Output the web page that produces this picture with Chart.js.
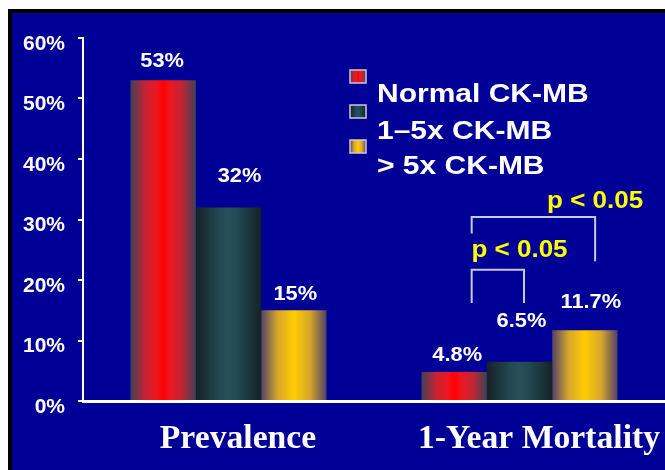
<!DOCTYPE html>
<html>
<head>
<meta charset="utf-8">
<title>CK-MB elevation: prevalence and 1-year mortality</title>
<script src="https://cdn.jsdelivr.net/npm/chart.js@4/dist/chart.umd.min.js"></script>
<style>
  html, body { margin: 0; padding: 0; background: #ffffff; overflow: hidden; }
  canvas { display: block; }
</style>
</head>
<body>
<canvas id="c" width="665" height="470"></canvas>
<script>
// ---- data ----
const categories = ['Prevalence', '1-Year Mortality'];
const seriesNames = ['Normal CK-MB', '1–5x CK-MB', '> 5x CK-MB'];
const normalCkmb = [53, 4.8];
const midCkmb = [32, 6.5];
const highCkmb = [15, 11.7];
const yTickMax = 60;
const yTickStep = 10;
// significance brackets between mortality bars (series indexes)
const mortalityIndex = 1;
const pBrackets = [
  { from: 0, to: 1, label: 'p < 0.05' },
  { from: 0, to: 2, label: 'p < 0.05' }
];

// ---- styling ----
const BG_BLUE = '#000096';
const SANS = "'Liberation Sans', Arial, sans-serif";
const SERIF = "'Liberation Serif', 'Times New Roman', serif";
const CAT_PCT = 0.6735;

// cylinder-like horizontal shading for each series
const shadeStops = [
  [[0, 'rgb(62,66,84)'], [0.22, 'rgb(196,36,52)'], [0.4, 'rgb(238,22,32)'], [0.5, 'rgb(255,0,0)'],
   [0.6, 'rgb(238,22,32)'], [0.78, 'rgb(196,36,52)'], [1, 'rgb(62,66,84)']],
  [[0, 'rgb(20,34,38)'], [0.35, 'rgb(34,72,82)'], [0.5, 'rgb(40,80,90)'], [0.65, 'rgb(34,72,82)'],
   [1, 'rgb(20,34,38)']],
  [[0, 'rgb(82,66,102)'], [0.25, 'rgb(214,166,44)'], [0.5, 'rgb(255,204,0)'], [0.75, 'rgb(214,166,44)'],
   [1, 'rgb(82,66,102)']]
];
const solidColors = ['#ff0000', '#285058', '#ffcc00'];

function makeShade(ctx, series, x0, x1) {
  const g = ctx.createLinearGradient(x0, 0, x1, 0);
  shadeStops[series].forEach(([o, c]) => g.addColorStop(o, c));
  return g;
}

function barFill(context) {
  const chart = context.chart;
  const xs = chart.scales && chart.scales.x;
  if (!xs || !chart.chartArea) return solidColors[context.datasetIndex];
  const center = xs.getPixelForValue(context.dataIndex);
  const catW = (xs.right - xs.left) / categories.length;
  const groupW = catW * CAT_PCT;
  const barW = groupW / seriesNames.length;
  const left = center - groupW / 2 + context.datasetIndex * barW;
  return makeShade(chart.ctx, context.datasetIndex, left, left + barW);
}

function drawScaledText(ctx, text, x, y, align, sx) {
  ctx.save();
  ctx.translate(x, y);
  ctx.scale(sx, 1);
  ctx.textAlign = align;
  ctx.fillText(text, 0, 0);
  ctx.restore();
}

// slide frame: white margin, black rule, blue panel
const framePlugin = {
  id: 'frame',
  beforeDraw(chart) {
    const { ctx, width, height } = chart;
    ctx.save();
    ctx.fillStyle = '#ffffff';
    ctx.fillRect(0, 0, width, height);
    ctx.fillStyle = '#000000';
    ctx.fillRect(8, 9, width - 8, height - 9);
    ctx.fillStyle = BG_BLUE;
    ctx.fillRect(12, 13, width - 12, height - 13);
    ctx.restore();
  }
};

// value labels above bars (offsets: [series][category])
const labelDx = [[-1, 3], [11, 2], [1.5, 6]];
const labelDy = [[19, 17], [31, 40], [16, 28.5]];
const valueLabelPlugin = {
  id: 'valueLabels',
  afterDatasetsDraw(chart) {
    const ctx = chart.ctx;
    ctx.save();
    ctx.fillStyle = '#ffffff';
    ctx.font = 'bold 21px ' + SANS;
    ctx.textBaseline = 'middle';
    chart.data.datasets.forEach((ds, d) => {
      chart.getDatasetMeta(d).data.forEach((el, i) => {
        drawScaledText(ctx, String(ds.data[i]) + '%', el.x + labelDx[d][i], el.y - labelDy[d][i], 'center', 1.04);
      });
    });
    ctx.restore();
  }
};

// category names under the axis
const catLabelDx = [9.5, 19.5];
const categoryLabelPlugin = {
  id: 'categoryLabels',
  afterDraw(chart) {
    const ctx = chart.ctx;
    const xs = chart.scales.x;
    ctx.save();
    ctx.fillStyle = '#ffffff';
    ctx.font = 'bold 33px ' + SERIF;
    ctx.textBaseline = 'alphabetic';
    categories.forEach((c, i) => {
      drawScaledText(ctx, c, xs.getPixelForValue(i) + catLabelDx[i], 448, 'center', 1.02);
    });
    ctx.restore();
  }
};

// legend: shaded swatches above-left of each series name
const legendPlugin = {
  id: 'slideLegend',
  afterDraw(chart) {
    const ctx = chart.ctx;
    const swatchTops = [70, 105, 140];
    const baselines = [102, 139, 174];
    ctx.save();
    chart.data.datasets.forEach((ds, d) => {
      const sx = 350, sw = 16, sh = 13, sy = swatchTops[d];
      ctx.fillStyle = makeShade(ctx, d, sx, sx + sw);
      ctx.fillRect(sx, sy, sw, sh);
      ctx.strokeStyle = '#c8c8dc';
      ctx.lineWidth = 1.5;
      ctx.strokeRect(sx, sy, sw, sh);
      ctx.fillStyle = '#ffffff';
      ctx.font = 'bold 25px ' + SANS;
      ctx.textBaseline = 'alphabetic';
      drawScaledText(ctx, ds.label, 377, baselines[d], 'left', 1.2);
    });
    ctx.restore();
  }
};

// significance brackets over the mortality bars
const bracketGeom = [
  { leftDx: 17.5, rightDx: 4.5, top: 21.7, leftEnd: 16.2, rightEnd: 16.2, textX: 'to', textDx: 0, textY: 23.8 },
  { leftDx: 17.5, rightDx: 10.3, top: 30.4, leftEnd: 27.7, rightEnd: 23.1, textX: 'right', textDx: 0, textY: 31.9 }
];
const bracketPlugin = {
  id: 'pBrackets',
  afterDraw(chart) {
    const ctx = chart.ctx;
    const ys = chart.scales.y;
    ctx.save();
    pBrackets.forEach((b, k) => {
      const g = bracketGeom[k];
      const a = chart.getDatasetMeta(b.from).data[mortalityIndex];
      const z = chart.getDatasetMeta(b.to).data[mortalityIndex];
      const xl = a.x + g.leftDx;
      const xr = z.x + g.rightDx;
      const yt = ys.getPixelForValue(g.top);
      ctx.strokeStyle = '#c8c8dc';
      ctx.lineWidth = 2;
      ctx.beginPath();
      ctx.moveTo(xl, ys.getPixelForValue(g.leftEnd));
      ctx.lineTo(xl, yt);
      ctx.lineTo(xr, yt);
      ctx.lineTo(xr, ys.getPixelForValue(g.rightEnd));
      ctx.stroke();
      const tx = g.textX === 'to' ? z.x : xr;
      ctx.fillStyle = '#ffff00';
      ctx.font = 'bold 23px ' + SANS;
      ctx.textBaseline = 'alphabetic';
      drawScaledText(ctx, b.label, tx + g.textDx, ys.getPixelForValue(g.textY), 'center', 1.13);
    });
    ctx.restore();
  }
};

const seriesData = [normalCkmb, midCkmb, highCkmb];

new Chart(document.getElementById('c'), {
  type: 'bar',
  data: {
    labels: categories,
    datasets: seriesNames.map((name, d) => ({
      label: name,
      data: seriesData[d],
      backgroundColor: barFill,
      borderWidth: 0,
      barPercentage: 1,
      categoryPercentage: CAT_PCT
    }))
  },
  options: {
    responsive: false,
    devicePixelRatio: 1,
    animation: false,
    events: [],
    layout: { padding: { left: 0, right: 0, top: 38, bottom: 0 } },
    plugins: {
      legend: { display: false },
      tooltip: { enabled: false },
      title: { display: false }
    },
    scales: {
      x: {
        offset: true,
        grid: { display: true, drawOnChartArea: false, drawTicks: false, color: 'rgba(0,0,0,0)' },
        border: { display: true, color: '#ffffff', width: 3 },
        ticks: { display: false },
        afterFit(scale) { scale.height = 69; }
      },
      y: {
        min: 0,
        max: yTickMax,
        grid: { display: true, drawOnChartArea: false, drawTicks: true, tickLength: 5, color: '#ffffff', lineWidth: 2 },
        border: { display: true, color: '#ffffff', width: 2 },
        ticks: {
          stepSize: yTickStep,
          padding: 13,
          labelOffset: 6,
          color: '#ffffff',
          font: { family: SANS, size: 21, weight: 'bold' },
          callback: (v) => v + '%'
        },
        afterFit(scale) { scale.width = 83; }
      }
    }
  },
  plugins: [framePlugin, valueLabelPlugin, categoryLabelPlugin, legendPlugin, bracketPlugin]
});
</script>
</body>
</html>
